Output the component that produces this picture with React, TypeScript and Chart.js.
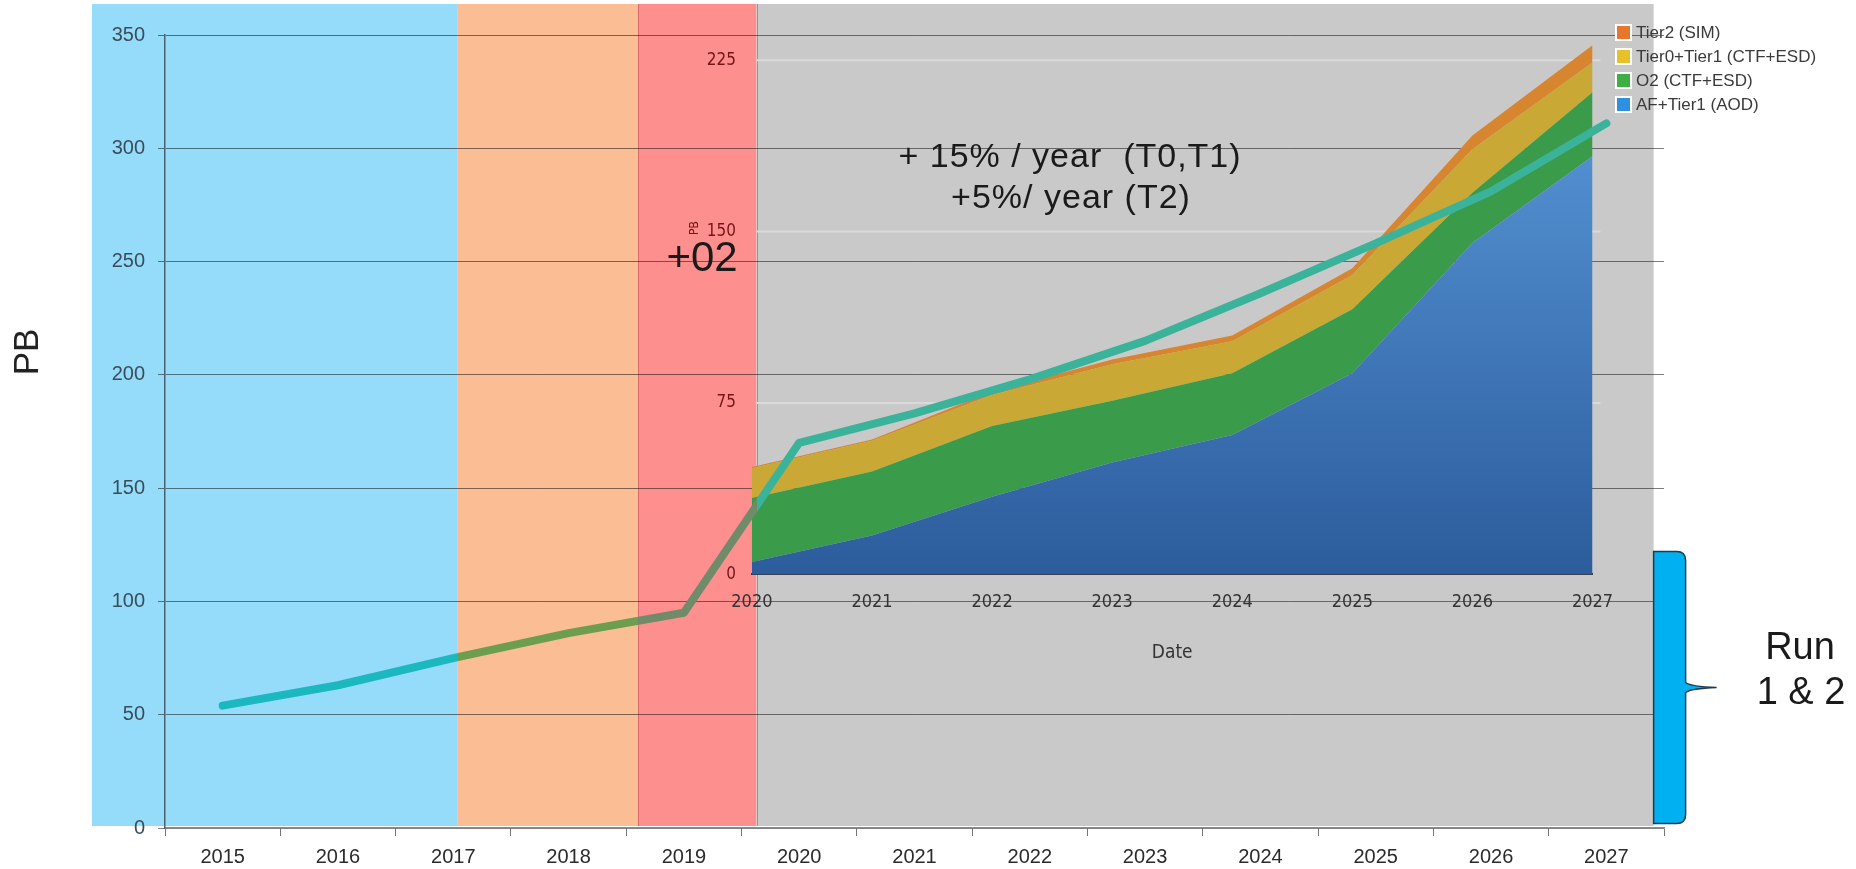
import React, { useEffect, useRef } from "react";
import { Chart, registerables } from "chart.js";

Chart.register(...registerables);

// ---------- data ----------
const YEARS = ["2015", "2016", "2017", "2018", "2019", "2020", "2021", "2022", "2023", "2024", "2025", "2026", "2027"];
const TOTAL_PB = [54, 63, 75, 86, 95, 170, 183, 198, 215, 236, 258, 281, 311];
const Y_MAX = 350;
const Y_STEP = 50;

const INSET_YEARS = ["2020", "2021", "2022", "2023", "2024", "2025", "2026", "2027"];
const AF_TIER1_AOD = [5.5, 17, 34, 49, 61, 88, 145, 183];
const O2_CTF_ESD = [28, 28, 31, 27, 27, 28, 22, 28];
const T0T1_CTF_ESD = [13, 13.5, 13.5, 16, 14, 15, 19, 13];
const TIER2_SIM = [0.5, 0.5, 1.5, 2, 2.5, 3, 6, 7.5];
const INSET_Y_TICKS = [0, 75, 150, 225];
const INSET_Y_MAX = 240;
const INSET_LABELS = ["AF+Tier1 (AOD)", "O2 (CTF+ESD)", "Tier0+Tier1 (CTF+ESD)", "Tier2 (SIM)"];

// band edges (in years on the main axis): blue | orange | red | grey
const BAND_EDGES = [2017.04, 2018.6, 2019.63, 2027.41];
// inset placement in main-axis units
const INSET_X_RANGE = [2019.59, 2026.88];
const INSET_Y_RANGE = [111.9, 338.9]; // main PB values where inset 0 and inset 225 sit
const BRACKET_PB = [2, 122];

// ---------- styles ----------
const SANS = '"Liberation Sans", Arial, sans-serif';
const NARROW = '"Liberation Sans Narrow", "Arial Narrow", "DejaVu Sans Condensed", "Liberation Sans", sans-serif';
const BAND_COLORS = ["#95dcfa", "#fbbd93", "#fe8f8f", "#c9c9c9"];
const LINE_COLORS = ["#1cb8bf", "#6d9e50", "#6f8b68", "#3bb39b"];
const AREA_COLORS = ["#3a72b8", "#3a9b4b", "#c9a835", "#d7852f"];
const LEGEND_COLORS = ["#2f8fe0", "#3fae45", "#e6c12a", "#e8772e"];

function fin(v: number, d: number) {
  return Number.isFinite(v) ? v : d;
}

function lineGradient(chart: any) {
  const x = chart.scales.x;
  const W = chart.width;
  const g = chart.ctx.createLinearGradient(0, 0, W, 0);
  let prev = 0;
  for (let i = 0; i < 4; i++) {
    let end = 1;
    if (i < 3) end = fin(x.getPixelForValue(BAND_EDGES[i] - 2015) / W, prev);
    end = Math.min(1, Math.max(prev, end));
    g.addColorStop(prev, LINE_COLORS[i]);
    g.addColorStop(end, LINE_COLORS[i]);
    prev = end;
  }
  return g;
}

function blueGradient(chart: any) {
  const yi = chart.scales.yInset;
  const y0 = fin(yi.getPixelForValue(190), 0);
  const y1 = fin(yi.getPixelForValue(0), 1);
  const g = chart.ctx.createLinearGradient(0, y0, 0, y1 === y0 ? y0 + 1 : y1);
  g.addColorStop(0, "#5391d2");
  g.addColorStop(1, "#2c5c9c");
  return g;
}

const layoutPlugin = {
  id: "insetLayout",
  afterLayout(chart: any) {
    const x = chart.scales.x, y = chart.scales.y, xi = chart.scales.xInset, yi = chart.scales.yInset;
    const left = x.getPixelForValue(INSET_X_RANGE[0] - 2015);
    const right = x.getPixelForValue(INSET_X_RANGE[1] - 2015);
    const base = y.getPixelForValue(INSET_Y_RANGE[0]);
    const p225 = y.getPixelForValue(INSET_Y_RANGE[1]);
    const ppu = (base - p225) / INSET_Y_TICKS[3];
    const top = base - INSET_Y_MAX * ppu;
    Object.assign(xi, { left, right, top: base, bottom: base + 90, width: right - left, height: 90 });
    xi.configure();
    Object.assign(yi, { left: left - 60, right: left, top, bottom: base, width: 60, height: base - top });
    yi.configure();
  },
};

const decoPlugin = {
  id: "deco",
  beforeDraw(chart: any) {
    const { ctx } = chart;
    const x = chart.scales.x, y = chart.scales.y;
    const top = chart.chartArea.top - 31;
    const bottom = y.getPixelForValue(0) - 2;
    const edges = [x.left - 73, ...BAND_EDGES.map((e) => x.getPixelForValue(e - 2015))];
    ctx.save();
    for (let i = 0; i < 4; i++) {
      ctx.fillStyle = BAND_COLORS[i];
      ctx.fillRect(edges[i], top, edges[i + 1] - edges[i], bottom - top);
    }
    ctx.strokeStyle = "rgba(190,80,80,0.6)";
    ctx.lineWidth = 1;
    [edges[2], edges[3]].forEach((ex) => {
      ctx.beginPath();
      ctx.moveTo(Math.round(ex) + 0.5, top);
      ctx.lineTo(Math.round(ex) + 0.5, bottom);
      ctx.stroke();
    });
    ctx.restore();
  },
  beforeDatasetsDraw(chart: any) {
    const { ctx } = chart;
    const m0 = chart.getDatasetMeta(0);
    if (m0 && m0.dataset) m0.dataset.options.borderColor = lineGradient(chart);
    const m1 = chart.getDatasetMeta(1);
    if (m1 && m1.dataset) m1.dataset.options.backgroundColor = blueGradient(chart);

    const x = chart.scales.x, yi = chart.scales.yInset;
    const gl = x.getPixelForValue(BAND_EDGES[2] - 2015);
    const gr = x.getPixelForValue(INSET_X_RANGE[1] - 2015) + 8;
    ctx.save();
    ctx.strokeStyle = "#dadada";
    ctx.lineWidth = 2;
    INSET_Y_TICKS.slice(1).forEach((v) => {
      const py = yi.getPixelForValue(v);
      ctx.beginPath();
      ctx.moveTo(gl, py);
      ctx.lineTo(gr, py);
      ctx.stroke();
    });
    ctx.restore();
  },
  afterDraw(chart: any) {
    const { ctx } = chart;
    const x = chart.scales.x, y = chart.scales.y;
    ctx.save();
    ctx.fillStyle = "#222";
    ctx.font = `35px ${SANS}`;
    ctx.textAlign = "center";
    ctx.textBaseline = "middle";
    ctx.translate(28, 352);
    ctx.rotate(-Math.PI / 2);
    ctx.fillText("PB", 0, 0);
    ctx.restore();

    ctx.save();
    ctx.fillStyle = "rgba(90,0,0,0.85)";
    ctx.font = `12px ${NARROW}`;
    ctx.textAlign = "center";
    ctx.textBaseline = "middle";
    ctx.translate(695, 228);
    ctx.rotate(-Math.PI / 2);
    ctx.fillText("PB", 0, 0);
    ctx.restore();

    ctx.save();
    ctx.fillStyle = "#1a1a1a";
    ctx.textAlign = "center";
    ctx.textBaseline = "middle";
    ctx.font = `42px ${SANS}`;
    ctx.fillText("+02", 702, 259);
    ctx.font = `34px ${SANS}`;
    (ctx as any).letterSpacing = "1px";
    ctx.fillText("+ 15% / year  (T0,T1)", 1070, 158);
    ctx.fillText("+5%/ year (T2)", 1071, 199);
    (ctx as any).letterSpacing = "0px";

    const rows = [3, 2, 1, 0];
    ctx.font = `17px ${SANS}`;
    ctx.textAlign = "left";
    rows.forEach((di, r) => {
      const cy = 32 + r * 24;
      ctx.fillStyle = "#ffffff";
      ctx.fillRect(1615, cy - 8, 17, 17);
      ctx.fillStyle = LEGEND_COLORS[di];
      ctx.fillRect(1617, cy - 6, 13, 13);
      ctx.fillStyle = "#3a3a3a";
      ctx.fillText(chart.data.datasets[di + 1].label, 1636, cy + 1);
    });

    const xl = x.getPixelForValue(BAND_EDGES[3] - 2015);
    const xr = xl + 32;
    const bt = y.getPixelForValue(BRACKET_PB[1]);
    const bb = y.getPixelForValue(BRACKET_PB[0]);
    const mid = (bt + bb) / 2;
    const tip = xr + 31;
    const r = 9;
    ctx.beginPath();
    ctx.moveTo(xl, bt);
    ctx.lineTo(xr - r, bt);
    ctx.quadraticCurveTo(xr, bt, xr, bt + r);
    ctx.lineTo(xr, mid - 5);
    ctx.quadraticCurveTo(xr + 5, mid - 1, tip, mid);
    ctx.quadraticCurveTo(xr + 5, mid + 1, xr, mid + 5);
    ctx.lineTo(xr, bb - r);
    ctx.quadraticCurveTo(xr, bb, xr - r, bb);
    ctx.lineTo(xl, bb);
    ctx.closePath();
    ctx.fillStyle = "#00b0f0";
    ctx.fill();
    ctx.strokeStyle = "#1d3b4f";
    ctx.lineWidth = 1.5;
    ctx.stroke();

    ctx.fillStyle = "#1a1a1a";
    ctx.textAlign = "center";
    ctx.font = `38px ${SANS}`;
    ctx.fillText("Run", 1800, 649);
    ctx.fillText("1 & 2", 1801, 694);
    ctx.restore();
  },
};

export default function App() {
  const ref = useRef<HTMLCanvasElement | null>(null);

  useEffect(() => {
    if (!ref.current) return;
    const area = (label: string, data: number[], color: string, fill: string, order: number) => ({
      label,
      data,
      xAxisID: "xInset",
      yAxisID: "yInset",
      stack: "inset",
      backgroundColor: color,
      borderWidth: 0,
      pointRadius: 0,
      fill,
      order,
    });
    const chart = new Chart(ref.current, {
      type: "line",
      data: {
        labels: YEARS,
        datasets: [
          {
            label: "Total",
            data: TOTAL_PB,
            xAxisID: "x",
            yAxisID: "y",
            borderColor: LINE_COLORS[3],
            borderWidth: 8,
            pointRadius: 0,
            fill: false,
            tension: 0,
            borderJoinStyle: "round",
            borderCapStyle: "round",
            order: 0,
          },
          area(INSET_LABELS[0], AF_TIER1_AOD, AREA_COLORS[0], "origin", 1),
          area(INSET_LABELS[1], O2_CTF_ESD, AREA_COLORS[1], "-1", 2),
          area(INSET_LABELS[2], T0T1_CTF_ESD, AREA_COLORS[2], "-1", 3),
          area(INSET_LABELS[3], TIER2_SIM, AREA_COLORS[3], "-1", 4),
        ],
      },
      options: {
        responsive: false,
        animation: false,
        devicePixelRatio: 1,
        events: [],
        layout: { padding: { left: 0, top: 35, right: 192, bottom: 0 } },
        plugins: { legend: { display: false }, tooltip: { enabled: false } },
        scales: {
          x: {
            type: "category",
            labels: YEARS,
            position: "bottom",
            offset: true,
            grid: { offset: true, drawOnChartArea: false, tickLength: 8, color: "#777" },
            border: { color: "#8a8a8a", width: 1.5 },
            ticks: { font: { family: SANS, size: 20 }, color: "#2b2b2b", padding: 9, maxRotation: 0, autoSkip: false },
            afterFit: (s: any) => { s.height = 41; },
          },
          y: {
            type: "linear",
            position: "left",
            min: 0,
            max: Y_MAX,
            ticks: { stepSize: Y_STEP, font: { family: SANS, size: 20 }, color: "#3b4d59", padding: 13 },
            grid: { color: "rgba(20,20,20,0.55)", tickLength: 7, lineWidth: 1 },
            border: { color: "#4d606b", width: 1.5 },
            afterFit: (s: any) => { s.width = 165; },
          },
          xInset: {
            type: "category",
            labels: INSET_YEARS,
            position: "bottom",
            offset: false,
            grid: { display: true, drawOnChartArea: false, drawTicks: false },
            border: { display: true, color: "#3a3a3a", width: 2 },
            ticks: { font: { family: NARROW, size: 18 }, color: "#333", padding: 17, maxRotation: 0, autoSkip: false },
            title: { display: true, text: "Date", font: { family: NARROW, size: 19 }, color: "#333", padding: 0 },
            afterFit: (s: any) => { s.height = 0; },
          },
          yInset: {
            type: "linear",
            position: "left",
            stacked: true,
            min: 0,
            max: INSET_Y_MAX,
            grid: { display: false, drawTicks: false },
            border: { display: false },
            ticks: { font: { family: NARROW, size: 17 }, color: "rgba(90,0,0,0.85)", padding: 16 },
            afterBuildTicks: (s: any) => { s.ticks = INSET_Y_TICKS.map((v) => ({ value: v })); },
            afterFit: (s: any) => { s.width = 0; },
          },
        },
      },
      plugins: [layoutPlugin, decoPlugin],
    } as any);
    return () => chart.destroy();
  }, []);

  return (
    <div style={{ position: "fixed", left: 0, top: 0, width: 1856, height: 869, background: "#fff" }}>
      <canvas ref={ref} width={1856} height={869} style={{ display: "block" }} />
    </div>
  );
}
